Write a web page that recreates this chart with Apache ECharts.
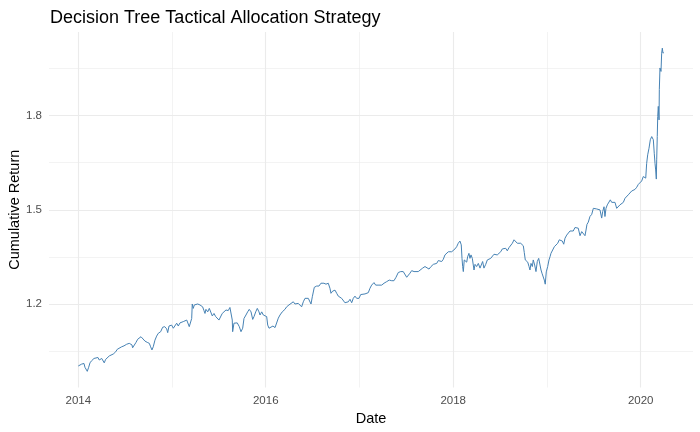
<!DOCTYPE html>
<html><head><meta charset="utf-8">
<script src="https://cdn.jsdelivr.net/npm/echarts@6/dist/echarts.min.js"></script>
<style>html,body{margin:0;padding:0;background:#fff}#c{width:700px;height:432px}</style>
</head><body><div id="c"></div>
<script>
// Dates as decimal years
const dates = [
2014.000,2014.018,2014.036,2014.061,2014.071,2014.090,2014.096,2014.111,2014.125,2014.143,
2014.168,2014.189,2014.210,2014.224,2014.250,2014.267,2014.277,2014.292,2014.309,2014.331,
2014.352,2014.373,2014.399,2014.416,2014.437,2014.463,2014.488,2014.516,2014.544,2014.562,
2014.573,2014.580,2014.597,2014.616,2014.634,2014.651,2014.669,2014.687,2014.712,2014.736,
2014.758,2014.772,2014.786,2014.800,2014.818,2014.836,2014.854,2014.879,2014.900,2014.922,
2014.943,2014.954,2014.968,2014.996,2015.014,2015.032,2015.050,2015.067,2015.085,2015.103,
2015.120,2015.138,2015.157,2015.174,2015.184,2015.199,2015.210,2015.216,2015.227,2015.238,
2015.256,2015.274,2015.285,2015.298,2015.317,2015.327,2015.341,2015.352,2015.362,2015.381,
2015.398,2015.413,2015.430,2015.448,2015.466,2015.483,2015.501,2015.519,2015.536,2015.554,
2015.576,2015.600,2015.618,2015.629,2015.643,2015.647,2015.661,2015.679,2015.696,2015.718,
2015.736,2015.754,2015.768,2015.789,2015.807,2015.824,2015.843,2015.861,2015.875,2015.893,
2015.910,2015.928,2015.939,2015.957,2015.974,2015.992,2016.010,2016.021,2016.035,2016.053,
2016.077,2016.099,2016.134,2016.152,2016.176,2016.205,2016.223,2016.248,2016.269,2016.294,
2016.312,2016.330,2016.347,2016.365,2016.383,2016.401,2016.419,2016.437,2016.454,2016.472,
2016.483,2016.497,2016.518,2016.543,2016.568,2016.589,2016.603,2016.621,2016.643,2016.667,
2016.685,2016.696,2016.714,2016.739,2016.757,2016.774,2016.792,2016.810,2016.827,2016.845,
2016.864,2016.881,2016.899,2016.917,2016.934,2016.952,2016.970,2016.995,2017.013,2017.034,
2017.059,2017.077,2017.094,2017.112,2017.130,2017.155,2017.173,2017.190,2017.208,2017.237,
2017.262,2017.290,2017.318,2017.344,2017.368,2017.390,2017.414,2017.440,2017.467,2017.486,
2017.504,2017.521,2017.539,2017.557,2017.582,2017.603,2017.627,2017.646,2017.674,2017.699,
2017.717,2017.742,2017.763,2017.788,2017.806,2017.824,2017.841,2017.859,2017.877,2017.894,
2017.912,2017.930,2017.948,2017.966,2017.984,2018.001,2018.019,2018.037,2018.054,2018.072,
2018.080,2018.086,2018.094,2018.101,2018.108,2018.118,2018.133,2018.144,2018.154,2018.168,
2018.179,2018.190,2018.204,2018.222,2018.233,2018.250,2018.268,2018.286,2018.304,2018.314,
2018.328,2018.347,2018.364,2018.385,2018.400,2018.417,2018.435,2018.453,2018.470,2018.488,
2018.507,2018.524,2018.542,2018.560,2018.577,2018.595,2018.614,2018.631,2018.649,2018.667,
2018.684,2018.702,2018.720,2018.737,2018.748,2018.758,2018.769,2018.784,2018.795,2018.809,
2018.819,2018.830,2018.844,2018.854,2018.869,2018.883,2018.897,2018.912,2018.926,2018.937,
2018.947,2018.961,2018.972,2018.982,2018.993,2019.008,2019.022,2019.033,2019.043,2019.057,
2019.079,2019.097,2019.115,2019.132,2019.150,2019.164,2019.179,2019.193,2019.211,2019.228,
2019.246,2019.264,2019.281,2019.299,2019.317,2019.334,2019.353,2019.371,2019.388,2019.406,
2019.417,2019.427,2019.441,2019.459,2019.478,2019.495,2019.513,2019.531,2019.548,2019.566,
2019.584,2019.595,2019.609,2019.619,2019.630,2019.644,2019.662,2019.676,2019.691,2019.708,
2019.726,2019.744,2019.761,2019.779,2019.798,2019.815,2019.833,2019.851,2019.868,2019.886,
2019.904,2019.921,2019.939,2019.958,2019.975,2019.993,2020.011,2020.028,2020.039,2020.054,
2020.064,2020.075,2020.089,2020.103,2020.118,2020.128,2020.135,2020.145,2020.153,2020.160,
2020.167,2020.171,2020.177,2020.182,2020.188,2020.196,2020.199,2020.206,2020.217,2020.224,
2020.231,2020.238,2020.246
];
// Cumulative return values
const values = [
1.004,1.000,1.010,1.012,1.000,0.996,0.987,1.000,1.014,1.021,
1.028,1.030,1.031,1.023,1.028,1.023,1.014,1.025,1.031,1.036,
1.039,1.042,1.049,1.057,1.062,1.065,1.068,1.073,1.076,1.081,
1.071,1.062,1.065,1.079,1.089,1.095,1.097,1.092,1.083,1.079,
1.076,1.065,1.055,1.065,1.086,1.099,1.108,1.113,1.127,1.129,
1.122,1.110,1.131,1.134,1.124,1.129,1.140,1.131,1.141,1.137,
1.145,1.141,1.150,1.145,1.129,1.134,1.155,1.201,1.187,1.198,
1.195,1.201,1.205,1.198,1.201,1.192,1.180,1.171,1.184,1.176,
1.187,1.182,1.163,1.171,1.161,1.166,1.150,1.152,1.171,1.176,
1.182,1.180,1.190,1.187,1.150,1.113,1.140,1.134,1.141,1.129,
1.113,1.124,1.155,1.166,1.176,1.184,1.176,1.152,1.161,1.176,
1.187,1.176,1.166,1.176,1.166,1.171,1.161,1.134,1.124,1.120,
1.131,1.126,1.156,1.166,1.176,1.184,1.192,1.198,1.203,1.208,
1.201,1.195,1.203,1.201,1.192,1.208,1.219,1.224,1.219,1.214,
1.201,1.224,1.254,1.258,1.258,1.267,1.261,1.267,1.264,1.267,
1.251,1.235,1.242,1.245,1.235,1.226,1.230,1.219,1.214,1.205,
1.211,1.208,1.216,1.205,1.219,1.226,1.219,1.219,1.231,1.233,
1.233,1.230,1.237,1.251,1.261,1.269,1.261,1.256,1.261,1.261,
1.267,1.272,1.277,1.275,1.275,1.286,1.301,1.304,1.304,1.299,
1.286,1.283,1.299,1.307,1.304,1.307,1.304,1.304,1.315,1.320,
1.315,1.312,1.320,1.327,1.325,1.330,1.339,1.336,1.336,1.343,
1.357,1.362,1.367,1.362,1.367,1.370,1.376,1.383,1.394,1.401,
1.405,1.389,1.346,1.320,1.304,1.341,1.346,1.334,1.351,1.362,
1.346,1.357,1.346,1.309,1.327,1.320,1.330,1.315,1.320,1.336,
1.315,1.327,1.341,1.336,1.346,1.351,1.359,1.365,1.357,1.351,
1.367,1.376,1.373,1.378,1.370,1.380,1.383,1.394,1.405,1.399,
1.394,1.397,1.394,1.394,1.386,1.365,1.341,1.346,1.334,1.320,
1.309,1.330,1.320,1.341,1.325,1.304,1.336,1.346,1.325,1.309,
1.299,1.293,1.277,1.264,1.303,1.320,1.341,1.351,1.362,1.357,
1.383,1.389,1.394,1.405,1.408,1.401,1.391,1.410,1.420,1.426,
1.433,1.436,1.433,1.444,1.450,1.442,1.418,1.431,1.426,1.418,
1.436,1.454,1.461,1.479,1.486,1.505,1.500,1.503,1.505,1.500,
1.474,1.495,1.510,1.479,1.505,1.516,1.518,1.532,1.524,1.518,
1.524,1.505,1.510,1.516,1.518,1.524,1.537,1.539,1.548,1.553,
1.560,1.558,1.565,1.572,1.581,1.584,1.592,1.606,1.611,1.601,
1.648,1.675,1.696,1.723,1.733,1.735,1.723,1.680,1.648,1.627,
1.598,1.659,1.733,1.797,1.829,1.786,1.882,1.951,1.940,1.998,
2.014,1.998,2.000
];
const xTicks = [2014, 2016, 2018, 2020];
const xMinor = [2015, 2017, 2019];
const yTicks = [1.2, 1.5, 1.8];
const yMinor = [1.05, 1.35, 1.65, 1.95];

const seriesData = dates.map((d, i) => [d, values[i]]);
function expand(arr) {
  const lo = Math.min(...arr), hi = Math.max(...arr), p = (hi - lo) * 0.05;
  return [lo - p, hi + p];
}
const xr = expand(dates), yr = expand(values);
const gridColor = '#ebebeb';
const FONT = 'Liberation Sans, Arial, sans-serif';

const chart = echarts.init(document.getElementById('c'), null, {renderer: 'canvas'});
chart.setOption({
  animation: false,
  backgroundColor: '#ffffff',
  title: {
    text: 'Decision Tree Tactical Allocation Strategy',
    left: 45, top: 4,
    textStyle: {fontFamily: FONT, fontSize: 18, fontWeight: 'normal', color: '#000'}
  },
  grid: {left: 49, right: 7, top: 32, bottom: 44.5, containLabel: false, outerBoundsMode: 'none'},
  xAxis: [{
    type: 'value', min: xr[0], max: xr[1],
    name: 'Date', nameLocation: 'middle', nameGap: 24, nameMoveOverlap: false,
    nameTextStyle: {fontFamily: FONT, fontSize: 14.5, color: '#000'},
    axisLine: {show: false}, axisTick: {show: false, customValues: xTicks},
    axisLabel: {customValues: xTicks, margin: 7, fontFamily: FONT, fontSize: 11.5, color: '#4d4d4d',
      formatter: v => String(Math.round(v))},
    splitLine: {show: true, lineStyle: {color: gridColor, width: 1.1}}
  }, {
    type: 'value', min: xr[0], max: xr[1], position: 'bottom',
    axisLine: {show: false}, axisTick: {show: false, customValues: xMinor},
    axisLabel: {show: false, customValues: xMinor},
    splitLine: {show: true, lineStyle: {color: gridColor, width: 0.6}}
  }],
  yAxis: [{
    type: 'value', min: yr[0], max: yr[1],
    name: 'Cumulative Return', nameLocation: 'middle', nameGap: 27, nameMoveOverlap: false,
    nameTextStyle: {fontFamily: FONT, fontSize: 14.5, color: '#000'},
    axisLine: {show: false}, axisTick: {show: false, customValues: yTicks},
    axisLabel: {customValues: yTicks, margin: 7, fontFamily: FONT, fontSize: 11.5, color: '#4d4d4d',
      formatter: v => v.toFixed(1)},
    splitLine: {show: true, lineStyle: {color: gridColor, width: 1.1}}
  }, {
    type: 'value', min: yr[0], max: yr[1], position: 'left',
    axisLine: {show: false}, axisTick: {show: false, customValues: yMinor},
    axisLabel: {show: false, customValues: yMinor},
    splitLine: {show: true, lineStyle: {color: gridColor, width: 0.6}}
  }],
  series: [{
    type: 'line', xAxisIndex: 0, yAxisIndex: 0,
    data: seriesData, showSymbol: false, symbol: 'none',
    lineStyle: {color: '#4682b4', width: 1},
    z: 5
  }]
});
</script>
</body></html>
